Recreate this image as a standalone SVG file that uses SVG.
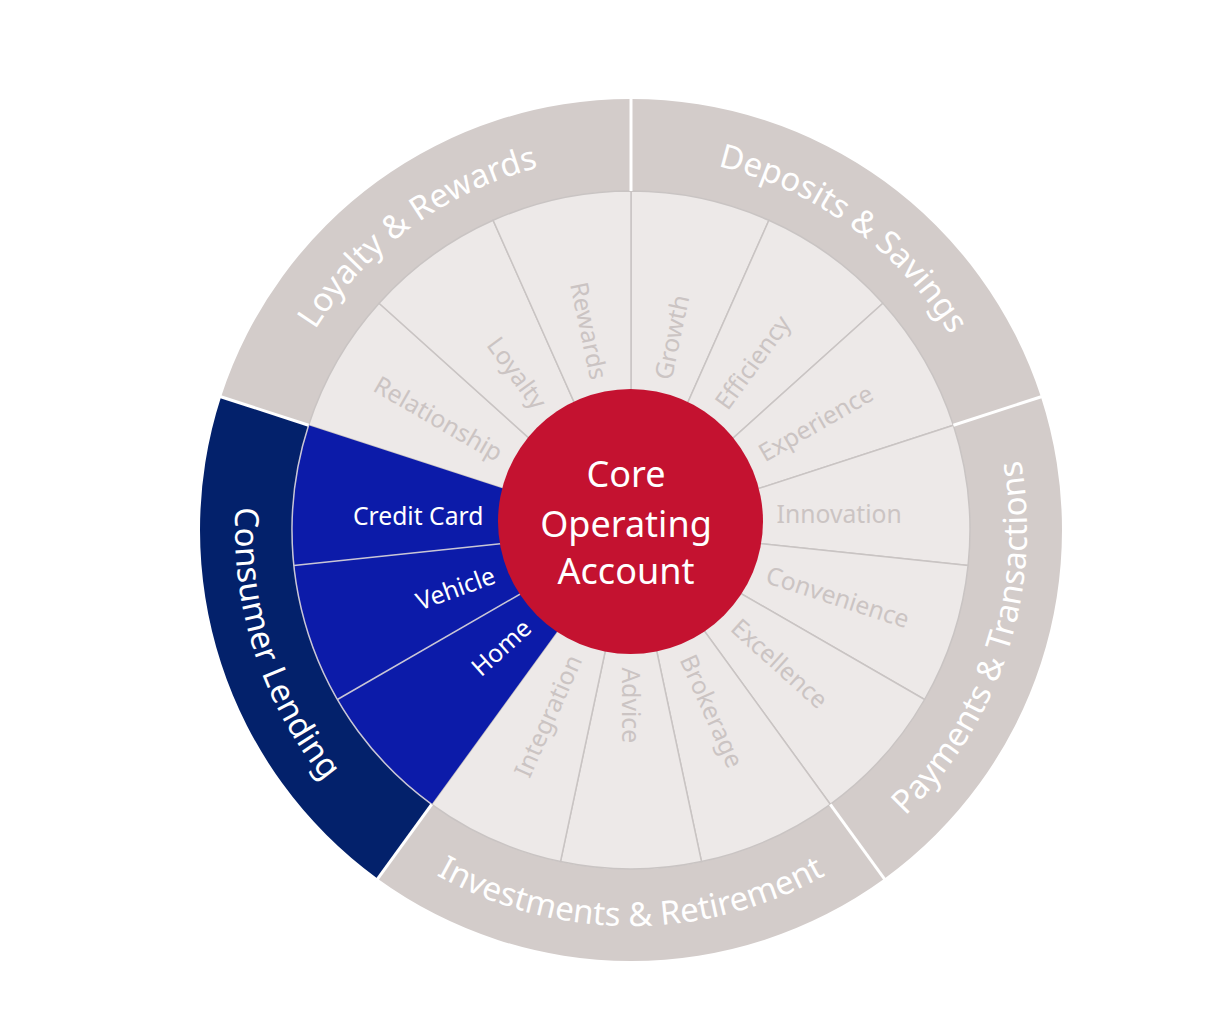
<svg xmlns="http://www.w3.org/2000/svg" width="1228" height="1012" viewBox="0 0 1228 1012">
<style>
text{font-family:"Noto Sans","Open Sans","Liberation Sans",sans-serif}
.outer{fill:#d3ccca}
.outerBlue{fill:#03216b}
.mid{fill:#ede9e8;stroke:#c9c4c3;stroke-width:1.5}
.midBlue{fill:#0c1ba9}
.sep{stroke:#ffffff;stroke-width:3}
.bsep{stroke:#c9c6d6;stroke-width:1.5;fill:none}
.olab{fill:#ffffff;font-size:33px}
.mlab{fill:#cbc4c3;font-size:24.7px}
.wlab{fill:#ffffff;font-size:24.7px}
.core{fill:#ffffff;font-size:36px;text-anchor:middle}
</style>
<defs>
<path id="arcLoyalty" d="M 275.3 414.4 A 374 374 0 0 1 631 156"/>
<path id="arcDeposits" d="M 631 156 A 374 374 0 0 1 986.7 414.4"/>
<path id="arcPayments" d="M 863.8 850.4 A 396 396 0 0 0 1007.6 407.6"/>
<path id="arcInvest" d="M 398.2 850.4 A 396 396 0 0 0 863.8 850.4"/>
<path id="arcConsumer" d="M 254.4 407.6 A 396 396 0 0 0 398.2 850.4"/>
</defs>
<rect width="1228" height="1012" fill="#ffffff"/>

<g id="ring-outer">
<g id="deposits-savings"><path class="outer" d="M 631 99 A 431 431 0 0 1 1040.9 396.8 L 953.4 425.2 A 339 339 0 0 0 631 191 Z"/><text class="olab"><textPath href="#arcDeposits" startOffset="50%" text-anchor="middle">Deposits &amp; Savings</textPath></text></g>
<g id="payments-transactions"><path class="outer" d="M 1040.9 396.8 A 431 431 0 0 1 884.3 878.7 L 830.3 804.3 A 339 339 0 0 0 953.4 425.2 Z"/><text class="olab"><textPath href="#arcPayments" startOffset="50%" text-anchor="middle">Payments &amp; Transactions</textPath></text></g>
<g id="investments-retirement"><path class="outer" d="M 884.3 878.7 A 431 431 0 0 1 377.7 878.7 L 431.7 804.3 A 339 339 0 0 0 830.3 804.3 Z"/><text class="olab"><textPath href="#arcInvest" startOffset="50%" text-anchor="middle">Investments &amp; Retirement</textPath></text></g>
<g id="consumer-lending"><path class="outerBlue" d="M 377.7 878.7 A 431 431 0 0 1 221.1 396.8 L 308.6 425.2 A 339 339 0 0 0 431.7 804.3 Z"/><text class="olab"><textPath href="#arcConsumer" startOffset="50%" text-anchor="middle">Consumer Lending</textPath></text></g>
<g id="loyalty-rewards"><path class="outer" d="M 221.1 396.8 A 431 431 0 0 1 631 99 L 631 191 A 339 339 0 0 0 308.6 425.2 Z"/><text class="olab"><textPath href="#arcLoyalty" startOffset="50%" text-anchor="middle">Loyalty &amp; Rewards</textPath></text></g>
</g>

<g id="ring-middle">
<g id="growth"><path class="mid" d="M 631 530 L 631 191 A 339 339 0 0 1 768.9 220.3 Z"/></g>
<g id="efficiency"><path class="mid" d="M 631 530 L 768.9 220.3 A 339 339 0 0 1 882.9 303.2 Z"/></g>
<g id="experience"><path class="mid" d="M 631 530 L 882.9 303.2 A 339 339 0 0 1 953.4 425.2 Z"/></g>
<g id="innovation"><path class="mid" d="M 631 530 L 953.4 425.2 A 339 339 0 0 1 968.1 565.4 Z"/></g>
<g id="convenience"><path class="mid" d="M 631 530 L 968.1 565.4 A 339 339 0 0 1 924.6 699.5 Z"/></g>
<g id="excellence"><path class="mid" d="M 631 530 L 924.6 699.5 A 339 339 0 0 1 830.3 804.3 Z"/></g>
<g id="brokerage"><path class="mid" d="M 631 530 L 830.3 804.3 A 339 339 0 0 1 701.5 861.6 Z"/></g>
<g id="advice"><path class="mid" d="M 631 530 L 701.5 861.6 A 339 339 0 0 1 560.5 861.6 Z"/></g>
<g id="integration"><path class="mid" d="M 631 530 L 560.5 861.6 A 339 339 0 0 1 431.7 804.3 Z"/></g>
<g id="relationship"><path class="mid" d="M 631 530 L 308.6 425.2 A 339 339 0 0 1 379.1 303.2 Z"/></g>
<g id="loyalty"><path class="mid" d="M 631 530 L 379.1 303.2 A 339 339 0 0 1 493.1 220.3 Z"/></g>
<g id="rewards"><path class="mid" d="M 631 530 L 493.1 220.3 A 339 339 0 0 1 631 191 Z"/></g>
<g id="home"><path class="midBlue" d="M 631 530 L 431.7 804.3 A 339 339 0 0 1 337.4 699.5 Z"/></g>
<g id="vehicle"><path class="midBlue" d="M 631 530 L 337.4 699.5 A 339 339 0 0 1 293.9 565.4 Z"/></g>
<g id="credit-card"><path class="midBlue" d="M 631 530 L 293.9 565.4 A 339 339 0 0 1 308.6 425.2 Z"/></g>
</g>

<g id="connectors">
<path class="bsep" d="M 431.7 804.3 A 339 339 0 0 1 308.6 425.2"/>
<line class="bsep" x1="631" y1="530" x2="337.4" y2="699.5"/>
<line class="bsep" x1="631" y1="530" x2="293.9" y2="565.4"/>
<line class="sep" x1="631" y1="191" x2="631" y2="97"/>
<line class="sep" x1="953.4" y1="425.2" x2="1042.8" y2="396.2"/>
<line class="sep" x1="830.3" y1="804.3" x2="885.5" y2="880.3"/>
<line class="sep" x1="431.7" y1="804.3" x2="376.5" y2="880.3"/>
<line class="sep" x1="308.6" y1="425.2" x2="219.2" y2="396.2"/>
</g>

<g id="labels-middle">
<text class="mlab" dy="0.35em" transform="translate(663.1 379.2) rotate(-78)">Growth</text>
<text class="mlab" dy="0.35em" transform="translate(720.7 406.5) rotate(-54)">Efficiency</text>
<text class="mlab" dy="0.35em" transform="translate(760.7 455.1) rotate(-30)">Experience</text>
<text class="mlab" dy="0.35em" transform="translate(776.6 514.7)">Innovation</text>
<text class="mlab" dy="0.35em" transform="translate(766.9 574.2) rotate(18)">Convenience</text>
<text class="mlab" dy="0.35em" transform="translate(735 623.6) rotate(42)">Excellence</text>
<text class="mlab" dy="0.35em" transform="translate(687.1 656.1) rotate(66)">Brokerage</text>
<text class="mlab" dy="0.35em" transform="translate(631 667.5) rotate(90)">Advice</text>
<text class="mlab" dy="0.35em" text-anchor="end" transform="translate(574.7 656.4) rotate(-66)">Integration</text>
<text class="wlab" dy="0.35em" text-anchor="end" transform="translate(527.4 624.1) rotate(-42)">Home</text>
<text class="wlab" dy="0.35em" text-anchor="end" transform="translate(494.1 574.5) rotate(-20)">Vehicle</text>
<text class="wlab" dy="0.35em" text-anchor="end" transform="translate(483.4 516)">Credit Card</text>
<text class="mlab" dy="0.35em" text-anchor="end" transform="translate(500.5 454.6) rotate(30)">Relationship</text>
<text class="mlab" dy="0.35em" text-anchor="end" transform="translate(540.9 406.1) rotate(54)">Loyalty</text>
<text class="mlab" dy="0.35em" text-anchor="end" transform="translate(598.9 379) rotate(78)">Rewards</text>
</g>

<g id="core-operating-account">
<circle cx="630.5" cy="521.5" r="132.5" fill="#c41230"/>
<text class="core" x="626" y="487.3">Core</text>
<text class="core" x="626" y="536.7">Operating</text>
<text class="core" x="626" y="584.3">Account</text>
</g>
</svg>
